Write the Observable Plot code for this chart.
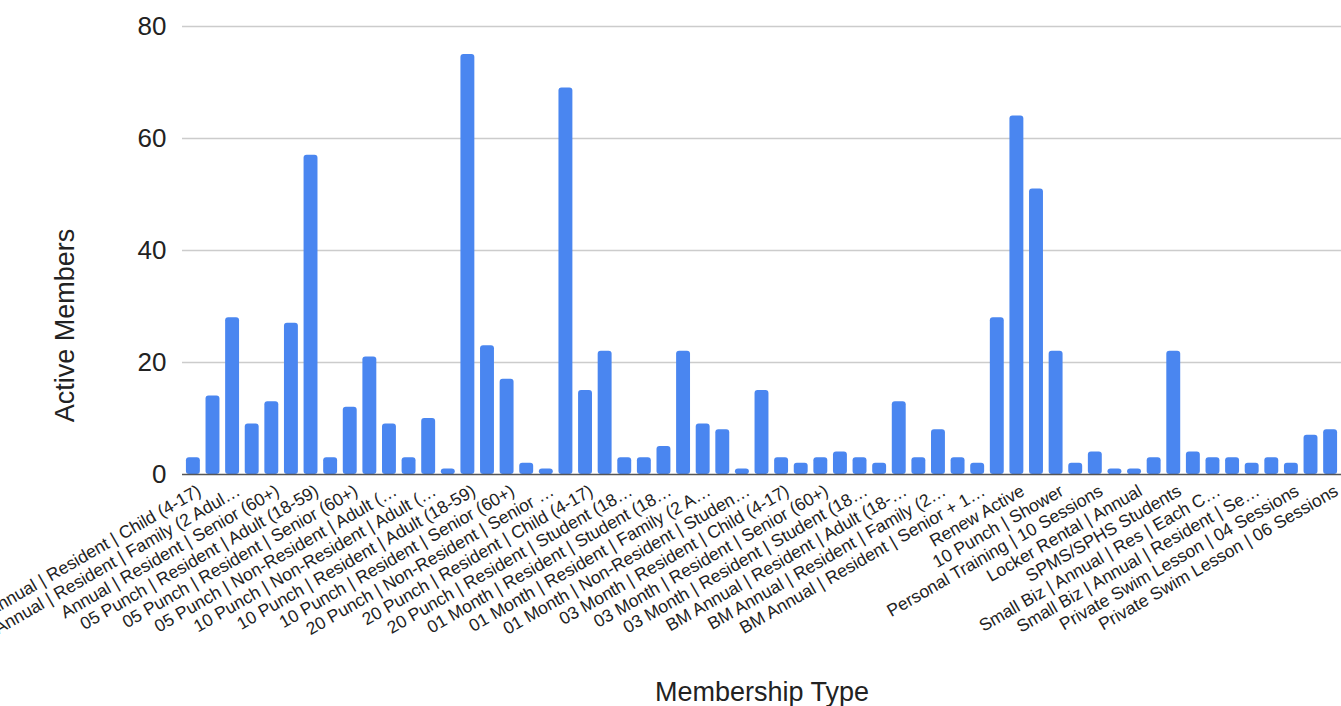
<!DOCTYPE html>
<html>
<head>
<meta charset="utf-8">
<script src="https://cdn.jsdelivr.net/npm/d3@7"></script>
<script src="https://cdn.jsdelivr.net/npm/@observablehq/plot@0.6"></script>
<style>
  html, body { margin: 0; padding: 0; background: #fff; overflow: hidden; }
</style>
</head>
<body>
<div id="chart"></div>
<script>
const categories = [
  "Annual | Resident | Child (4-17)",
  "Annual | Resident | Adult (18-59)",
  "Annual | Resident | Family (2 Adul…",
  "Annual | Resident | Student (18…",
  "Annual | Resident | Senior (60+)",
  "Annual | Resident | Senior + 1…",
  "05 Punch | Resident | Adult (18-59)",
  "05 Punch | Resident | Child (4-17)",
  "05 Punch | Resident | Senior (60+)",
  "05 Punch | Resident | Student (18…",
  "05 Punch | Non-Resident | Adult (…",
  "05 Punch | Non-Resident | Senior …",
  "10 Punch | Non-Resident | Adult (…",
  "10 Punch | Non-Resident | Senior …",
  "10 Punch | Resident | Adult (18-59)",
  "10 Punch | Resident | Child (4-17)",
  "10 Punch | Resident | Senior (60+)",
  "10 Punch | Resident | Student (18…",
  "20 Punch | Non-Resident | Senior …",
  "20 Punch | Resident | Adult (18-59)",
  "20 Punch | Resident | Child (4-17)",
  "20 Punch | Resident | Senior (60+)",
  "20 Punch | Resident | Student (18…",
  "01 Month | Resident | Adult (18-59)",
  "01 Month | Resident | Student (18…",
  "01 Month | Resident | Senior (60+)",
  "01 Month | Resident | Family (2 A…",
  "01 Month | Non-Resident | Adult (…",
  "01 Month | Non-Resident | Studen…",
  "03 Month | Resident | Adult (18-59)",
  "03 Month | Resident | Child (4-17)",
  "03 Month | Resident | Family (2 A…",
  "03 Month | Resident | Senior (60+)",
  "03 Month | Non-Resident | Adult (…",
  "03 Month | Resident | Student (18…",
  "BM Annual | Resident | Child (4-17)",
  "BM Annual | Resident | Adult (18-…",
  "BM Annual | Resident | Senior (60+)",
  "BM Annual | Resident | Family (2…",
  "BM Annual | Resident | Student (18…",
  "BM Annual | Resident | Senior + 1…",
  "Renew Annual",
  "Renew Active",
  "Renew Punch",
  "10 Punch | Shower",
  "05 Punch | Shower",
  "Personal Training | 10 Sessions",
  "Personal Training | 05 Sessions",
  "Locker Rental | Annual",
  "Locker Rental | Monthly",
  "SPMS/SPHS Students",
  "Small Biz | Annual | Res | Each A…",
  "Small Biz | Annual | Res | Each C…",
  "Small Biz | Annual | Resident | Ad…",
  "Small Biz | Annual | Resident | Se…",
  "Private Swim Lesson | 01 Session",
  "Private Swim Lesson | 04 Sessions",
  "Private Swim Lesson | 05 Sessions",
  "Private Swim Lesson | 06 Sessions"
];

const values = [
  3, 14, 28, 9, 13, 27, 57, 3, 12, 21,
  9, 3, 10, 1, 75, 23, 17, 2, 1, 69,
  15, 22, 3, 3, 5, 22, 9, 8, 1, 15,
  3, 2, 3, 4, 3, 2, 13, 3, 8, 3,
  2, 28, 64, 51, 22, 2, 4, 1, 1, 3,
  22, 4, 3, 3, 2, 3, 2, 7, 8
];

const tickLabels = [
  "Annual | Resident | Child (4-17)",
  "Annual | Resident | Family (2 Adul…",
  "Annual | Resident | Senior (60+)",
  "05 Punch | Resident | Adult (18-59)",
  "05 Punch | Resident | Senior (60+)",
  "05 Punch | Non-Resident | Adult (…",
  "10 Punch | Non-Resident | Adult (…",
  "10 Punch | Resident | Adult (18-59)",
  "10 Punch | Resident | Senior (60+)",
  "20 Punch | Non-Resident | Senior …",
  "20 Punch | Resident | Child (4-17)",
  "20 Punch | Resident | Student (18…",
  "01 Month | Resident | Student (18…",
  "01 Month | Resident | Family (2 A…",
  "01 Month | Non-Resident | Studen…",
  "03 Month | Resident | Child (4-17)",
  "03 Month | Resident | Senior (60+)",
  "03 Month | Resident | Student (18…",
  "BM Annual | Resident | Adult (18-…",
  "BM Annual | Resident | Family (2…",
  "BM Annual | Resident | Senior + 1…",
  "Renew Active",
  "10 Punch | Shower",
  "Personal Training | 10 Sessions",
  "Locker Rental | Annual",
  "SPMS/SPHS Students",
  "Small Biz | Annual | Res | Each C…",
  "Small Biz | Annual | Resident | Se…",
  "Private Swim Lesson | 04 Sessions",
  "Private Swim Lesson | 06 Sessions"
];

const yTicks = [0, 20, 40, 60, 80];

const data = categories.map((c, i) => ({type: c, members: values[i]}));

const chart = Plot.plot({
  width: 1341,
  height: 706,
  marginLeft: 182,
  marginRight: 0,
  marginTop: 26,
  marginBottom: 232,
  style: {fontFamily: "'Liberation Sans', Arial, sans-serif", background: "#fff", color: "#222", overflow: "visible"},
  x: {domain: categories, paddingInner: 0.29, paddingOuter: 0.2, label: null},
  y: {domain: [0, 80], label: null},
  marks: [
    Plot.ruleY(yTicks.filter(d => d > 0), {stroke: "#cccccc", strokeWidth: 1.5}),
    Plot.barY(data, {x: "type", y: "members", fill: "#4a86f0", rx: 3}),
    Plot.ruleY([0], {stroke: "#555555", strokeWidth: 1.5}),
    Plot.axisY({ticks: yTicks, tickSize: 0, tickPadding: 16, fontSize: 26, label: null}),
    Plot.axisX({ticks: tickLabels, tickSize: 0, tickPadding: 15, tickRotate: -30, fontSize: 17.5, dx: 6, label: null}),
    Plot.text(["Active Members"], {frameAnchor: "left", textAnchor: "middle", lineAnchor: "middle", rotate: -90, dx: -117, dy: 75, fontSize: 27, fill: "#222"}),
    Plot.text(["Membership Type"], {frameAnchor: "bottom", textAnchor: "middle", lineAnchor: "middle", dy: 218, fontSize: 27, fill: "#222"})
  ]
});

document.getElementById("chart").appendChild(chart);
</script>
</body>
</html>
